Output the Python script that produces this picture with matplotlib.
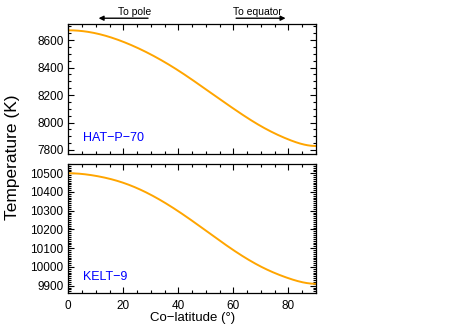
import matplotlib
matplotlib.use('Agg')
import numpy as np
import matplotlib.pyplot as plt
from matplotlib.ticker import MultipleLocator

plt.rcParams['font.family'] = ['Liberation Sans', 'DejaVu Sans']

# co-latitude (deg) and temperatures
colat = [0, 10, 20, 30, 40, 50, 60, 70, 80, 90]
temp_hat = [8672, 8650, 8588, 8496, 8379, 8242, 8102, 7974, 7877, 7829]
temp_kelt = [10500, 10486, 10449, 10385, 10297, 10194, 10090, 10002, 9940, 9910]

names = ['HAT−P−70', 'KELT−9']
ylims = [(7773, 8720), (9861, 10551)]
ymajor = [200, 100]
yminor = [50, 10]


def spline(x, y, n=300):
    # clamped cubic spline (flat at both ends) through the read points
    x = np.asarray(x, float)
    y = np.asarray(y, float)
    N = len(x)
    h = np.diff(x)
    A = np.zeros((N, N))
    b = np.zeros(N)
    A[0, 0], A[0, 1] = 2 * h[0], h[0]
    b[0] = 6 * ((y[1] - y[0]) / h[0])
    A[-1, -2], A[-1, -1] = h[-1], 2 * h[-1]
    b[-1] = -6 * ((y[-1] - y[-2]) / h[-1])
    for i in range(1, N - 1):
        A[i, i - 1], A[i, i], A[i, i + 1] = h[i - 1], 2 * (h[i - 1] + h[i]), h[i]
        b[i] = 6 * ((y[i + 1] - y[i]) / h[i] - (y[i] - y[i - 1]) / h[i - 1])
    M = np.linalg.solve(A, b)
    xs = np.linspace(x[0], x[-1], n)
    k = np.clip(np.searchsorted(x, xs) - 1, 0, N - 2)
    t1 = x[k + 1] - xs
    t0 = xs - x[k]
    hk = h[k]
    ys = (M[k] * t1**3 + M[k + 1] * t0**3) / (6 * hk) \
        + (y[k] / hk - M[k] * hk / 6) * t1 + (y[k + 1] / hk - M[k + 1] * hk / 6) * t0
    return xs, ys


fig = plt.figure(figsize=(4.72, 3.27), dpi=100)
ax1 = fig.add_axes([0.1447, 0.530, 0.5245, 0.3975])
ax2 = fig.add_axes([0.1447, 0.104, 0.5245, 0.3954])

for ax, t, name, yl, ma, mi in zip([ax1, ax2], [temp_hat, temp_kelt], names, ylims, ymajor, yminor):
    xs, ys = spline(colat, t)
    ax.plot(xs, ys, color='#FFA500', lw=1.4)
    ax.set_xlim(0, 90)
    ax.set_ylim(*yl)
    ax.xaxis.set_major_locator(MultipleLocator(20))
    ax.xaxis.set_minor_locator(MultipleLocator(5))
    ax.yaxis.set_major_locator(MultipleLocator(ma))
    ax.yaxis.set_minor_locator(MultipleLocator(mi))
    ax.tick_params(which='both', direction='in', top=True, right=True, labelsize=8.5, width=0.8)
    ax.tick_params(which='major', length=4.5)
    ax.tick_params(which='minor', length=2.2)
    ax.tick_params(axis='x', which='major', pad=5)
    for s in ax.spines.values():
        s.set_linewidth(0.9)
    ax.text(0.058, 0.12, name, transform=ax.transAxes, color='blue', fontsize=9, va='center')

ax1.tick_params(labelbottom=False)
ax2.set_xlabel('Co−latitude (°)', fontsize=9.5, labelpad=0)
fig.text(0.027, 0.52, 'Temperature (K)', rotation=90, fontsize=12.5, ha='center', va='center')

# direction arrows above the top panel
arrow = dict(arrowstyle='-|>', color='black', lw=1.0, mutation_scale=7)
ax1.annotate('', xy=(10, 8760), xytext=(30, 8760), arrowprops=arrow, annotation_clip=False)
ax1.annotate('', xy=(80, 8760), xytext=(60, 8760), arrowprops=arrow, annotation_clip=False)
ax1.text(30, 8808, 'To pole', ha='right', va='center', fontsize=7.5)
ax1.text(60, 8808, 'To equator', ha='left', va='center', fontsize=7.5)

fig.savefig('out.png', dpi=100)
